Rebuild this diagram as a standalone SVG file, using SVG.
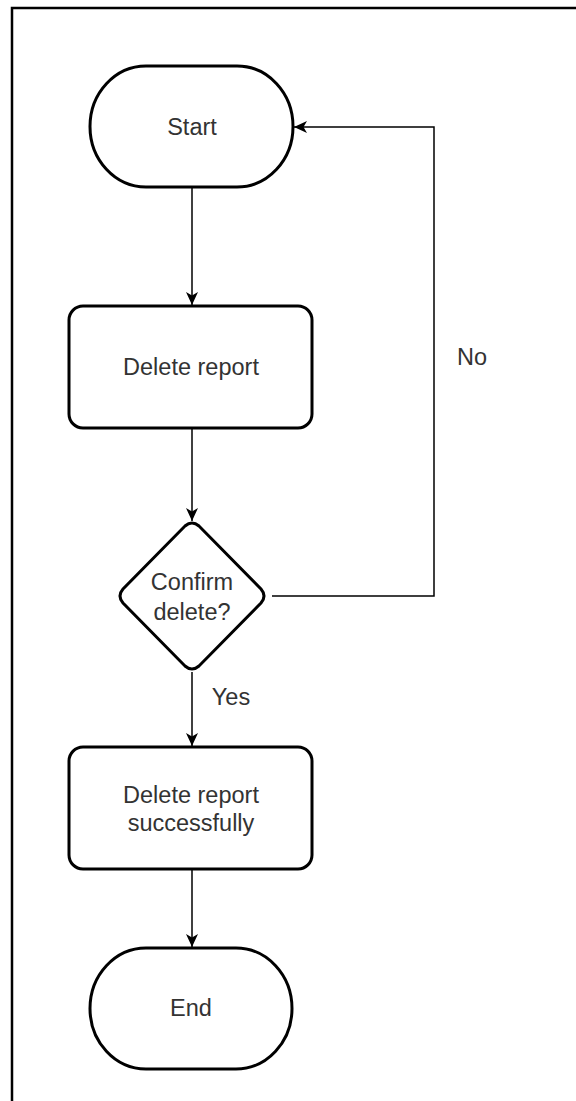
<svg xmlns="http://www.w3.org/2000/svg" width="576" height="1101" viewBox="0 0 576 1101">
  <style>
    .shape { fill: #ffffff; stroke: #000000; stroke-width: 3; }
    .edge { fill: none; stroke: #000000; stroke-width: 1.5; }
    .label { font-family: "Liberation Sans", Arial, sans-serif; font-size: 23.5px; fill: #333333; text-anchor: middle; dominant-baseline: central; }
  </style>
  <defs>
    <marker id="arrow" viewBox="0 0 14 14" refX="13" refY="7" markerWidth="14" markerHeight="14" markerUnits="userSpaceOnUse" orient="auto">
      <path d="M0,1 L13,7 L0,13 L3.5,7 Z" fill="#000000"/>
    </marker>
  </defs>

  <rect width="576" height="1101" fill="#ffffff"/>
  <!-- page frame -->
  <rect x="12" y="8" width="700" height="1200" fill="none" stroke="#000000" stroke-width="2.5"/>

  <g id="connectors">
    <line class="edge" x1="192" y1="187" x2="192" y2="305" marker-end="url(#arrow)"/>
    <line class="edge" x1="192" y1="428" x2="192" y2="521" marker-end="url(#arrow)"/>
    <line class="edge" x1="192" y1="672" x2="192" y2="746" marker-end="url(#arrow)"/>
    <line class="edge" x1="192" y1="869" x2="192" y2="947" marker-end="url(#arrow)"/>
    <polyline class="edge" points="272,596 434,596 434,127 294,127" marker-end="url(#arrow)"/>
    <text class="label" x="472" y="357">No</text>
    <text class="label" x="231" y="697">Yes</text>
  </g>

  <g id="start">
    <rect class="shape" x="90" y="66" width="203" height="121" rx="56" ry="60.5"/>
    <text class="label" x="192" y="127">Start</text>
  </g>

  <g id="delete-report">
    <rect class="shape" x="69" y="306" width="243" height="122" rx="14" ry="14"/>
    <text class="label" x="191" y="367">Delete report</text>
  </g>

  <g id="confirm-delete">
    <path class="shape" d="M185,526 Q192,520 199,526 L261,589 Q267,596 261,603 L199,666 Q192,672 185,666 L123,603 Q117,596 123,589 Z"/>
    <text class="label" x="192" y="582">Confirm</text>
    <text class="label" x="192" y="612">delete?</text>
  </g>

  <g id="delete-success">
    <rect class="shape" x="69" y="747" width="243" height="122" rx="14" ry="14"/>
    <text class="label" x="191" y="795">Delete report</text>
    <text class="label" x="191" y="823">successfully</text>
  </g>

  <g id="end">
    <rect class="shape" x="90" y="948" width="202" height="121" rx="56" ry="60.5"/>
    <text class="label" x="191" y="1008">End</text>
  </g>
</svg>
